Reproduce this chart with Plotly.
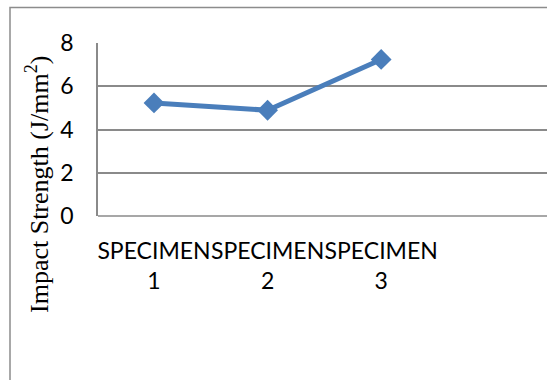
import plotly.graph_objects as go

# Impact strength per specimen
specimens = ["SPECIMEN<br>1", "SPECIMEN<br>2", "SPECIMEN<br>3"]
impact_strength = [5.23, 4.89, 7.24]
y_ticks = [0, 2, 4, 6, 8]

W, H = 547, 380
L, R, T, B = 98, 0, 43, 164
plot_w = W - L - R
plot_h = H - T - B


def px_x(p):
    return (p - L) / plot_w


def px_y(p):
    return (H - B - p) / plot_h


fig = go.Figure()
fig.add_trace(go.Scatter(
    x=[0, 1, 2],
    y=impact_strength,
    mode="lines+markers",
    line=dict(color="#4A7EBB", width=5),
    marker=dict(symbol="diamond", size=16, color="#4A7EBB"),
    showlegend=False,
    cliponaxis=False,
))

axis_font = dict(family="Lato, sans-serif", size=23, color="#000000")

fig.update_layout(
    width=W, height=H,
    margin=dict(l=L, r=R, t=T, b=B),
    paper_bgcolor="white",
    plot_bgcolor="white",
    xaxis=dict(
        range=[-0.493, 3.46],
        tickvals=[0, 1, 2],
        ticktext=specimens,
        tickfont=axis_font,
        tickangle=0,
        showgrid=False,
        zeroline=False,
        showline=False,
        ticks="",
        ticklabelstandoff=19,
    ),
    yaxis=dict(
        range=[0, 8],
        tickvals=y_ticks,
        tickfont=axis_font,
        showgrid=True,
        gridcolor="#8a8a8a",
        gridwidth=1.5,
        zeroline=False,
        showline=True,
        linecolor="#8a8a8a",
        linewidth=1.5,
        ticks="",
        ticklabelstandoff=18,
    ),
    shapes=[
        # outer chart border
        dict(type="rect", xref="paper", yref="paper",
             x0=px_x(10), x1=px_x(W + 20), y0=px_y(H + 20), y1=px_y(7.5),
             line=dict(color="#8c8c8c", width=1.5), layer="below"),
        # bottom edge of the plot area
        dict(type="line", xref="paper", yref="paper",
             x0=0, x1=1.05, y0=0, y1=0,
             line=dict(color="#8a8a8a", width=1.5), layer="below"),
    ],
    annotations=[
        dict(text="Impact Strength (J/mm<sup>2</sup>)",
             xref="paper", yref="paper", x=px_x(37), y=px_y(184),
             textangle=-90, showarrow=False,
             font=dict(family="Liberation Serif, serif", size=26, color="#000000"),
             xanchor="center", yanchor="middle"),
    ],
)

fig.write_html("out.html")
